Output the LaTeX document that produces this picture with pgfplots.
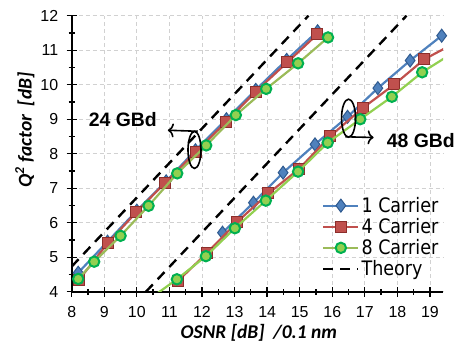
\documentclass[border=0pt]{standalone}
\usepackage{fontspec}
\setmainfont{Liberation Sans}
\newfontfamily\calibri{Carlito}
\newfontfamily\legfont[FakeStretch=0.88]{DejaVu Sans}
\usepackage{pgfplots}
\pgfplotsset{compat=1.18}
\usetikzlibrary{arrows.meta}
\definecolor{bl}{HTML}{4F81BD}
\definecolor{bld}{HTML}{2F5A8F}
\definecolor{rd}{HTML}{C0504D}
\definecolor{rdd}{HTML}{8C2E2B}
\definecolor{gr}{HTML}{9BBB59}
\definecolor{grb}{HTML}{92D050}
\definecolor{grd}{HTML}{00B050}
\begin{document}
\begin{tikzpicture}
\useasboundingbox (-71.7bp,-62.3bp) rectangle (390.3bp,291.7bp);
\begin{axis}[
  at={(0,0)}, anchor=south west,
  scale only axis, width=371.3bp, height=276bp,
  xmin=8, xmax=19.4, ymin=4, ymax=12,
  axis lines*=left,
  axis line style={-, line width=1.6bp, black},
  xtick={8,...,19}, ytick={4,...,12},
  minor x tick num=1, minor y tick num=1,
  tick align=center, major tick length=10bp, minor tick length=6bp,
  tick style={black, line width=1.3bp},
  grid=major,
  major grid style={dash pattern=on 4bp off 3bp, black!18, line width=0.8bp},
  /pgf/number format/assume math mode=true,
  tick label style={font=\fontsize{16}{16}\selectfont},
  xticklabel style={yshift=-6bp},
  yticklabel style={xshift=-5bp},
  clip mode=individual,
  xlabel={\calibri\bfseries\itshape OSNR [dB]\ \ /0.1 nm},
  xlabel style={at={(axis description cs:0.504,-0.15)}, anchor=center, font=\fontsize{19.5}{19.5}\selectfont},
  ylabel={\calibri\bfseries\itshape Q\textsuperscript{2} factor\ \ [dB]},
  ylabel style={at={(axis description cs:-0.126,0.586)}, anchor=center, font=\fontsize{19.5}{19.5}\selectfont},
  legend style={draw=none, fill=none, at={(axis description cs:0.674,0.35)}, anchor=north west,
    font=\legfont\fontsize{20}{20}\selectfont, row sep=0.5bp, inner sep=0pt, legend cell align=left},
  legend image code/.code={\draw[mark repeat=2, mark phase=2] plot coordinates {(0bp,0bp) (17.5bp,0bp) (35bp,0bp)};},
  bstyle/.style={color=bl, line width=2.2bp, mark=diamond*, mark size=6.5bp, mark options={fill=bl, draw=bld, line width=1bp, solid}},
  rstyle/.style={color=rd, line width=2.2bp, mark=square*, mark size=5.5bp, mark options={fill=rd, draw=rdd, line width=1bp, solid}},
  gstyle/.style={color=#1, line width=2.2bp, mark=*, mark size=5.2bp, mark options={fill=grb, draw=grd, line width=2bp, solid}},
  tstyle/.style={black, line width=2.4bp, dash pattern=on 10bp off 7bp},
]
% Theory
\addplot[tstyle, forget plot] coordinates {(8,4.73) (15.27,12)};
\addplot[tstyle, forget plot] coordinates {(10.28,4) (18.28,12)};
% 24 GBd
\addplot[bstyle] coordinates {(8.2,4.55) (9.1,5.45) (10.0,6.35) (10.9,7.2) (11.8,8.1) (12.75,9.0) (13.65,9.85) (14.6,10.72) (15.55,11.55)};
\addlegendentry{1 Carrier}
\addplot[rstyle] coordinates {(8.22,4.34) (9.1,5.4) (9.98,6.3) (10.85,7.14) (11.82,8.06) (12.75,8.93) (13.65,9.8) (14.62,10.65) (15.54,11.46)};
\addlegendentry{4 Carrier}
\addplot[gstyle=gr] coordinates {(8.2,4.37) (8.69,4.87) (9.5,5.62) (10.36,6.49) (11.24,7.43) (12.13,8.24) (13.04,9.12) (13.97,9.88) (14.95,10.62) (15.87,11.37)};
\addlegendentry{8 Carrier}
\addlegendimage{tstyle}
\addlegendentry{Theory}
% 48 GBd
\addplot[bstyle, forget plot] coordinates {(12.63,5.71) (13.58,6.58) (14.49,7.45) (15.47,8.27) (16.47,9.07) (17.4,9.9) (18.39,10.7) (19.36,11.42)};
\addplot[rstyle, forget plot] coordinates {(11.26,4.31) (12.14,5.11) (13.09,6.03) (14.04,6.85) (14.98,7.56) (15.94,8.51) (16.93,9.32) (17.91,10.01) (18.83,10.74) (19.75,11.2)};
\addplot[gstyle=grb, forget plot] coordinates {(10.3,3.73) (11.23,4.36) (12.12,5.03) (13.01,5.84) (13.96,6.64) (14.95,7.48) (15.86,8.32) (16.86,9.0) (17.83,9.65) (18.76,10.36) (19.7,10.92)};
% annotations
\draw[line width=1.6bp] (axis cs:11.77,8.11) ellipse [x radius=6.5bp, y radius=18.5bp];
\draw[line width=1.6bp, -{To[length=6bp,width=14bp]}] (axis cs:11.87,8.65) -- (axis cs:10.95,8.68);
\node[font=\bfseries\fontsize{19.5}{19.5}\selectfont] at (axis cs:9.57,9.0) {24 GBd};
\draw[line width=1.6bp] (axis cs:16.5,9.03) ellipse [x radius=7bp, y radius=19bp];
\draw[line width=1.6bp, -{To[length=6bp,width=14bp]}] (axis cs:16.4,8.49) -- (axis cs:17.27,8.47);
\node[font=\bfseries\fontsize{19.5}{19.5}\selectfont] at (axis cs:18.72,8.38) {48 GBd};
\end{axis}
\end{tikzpicture}
\end{document}
